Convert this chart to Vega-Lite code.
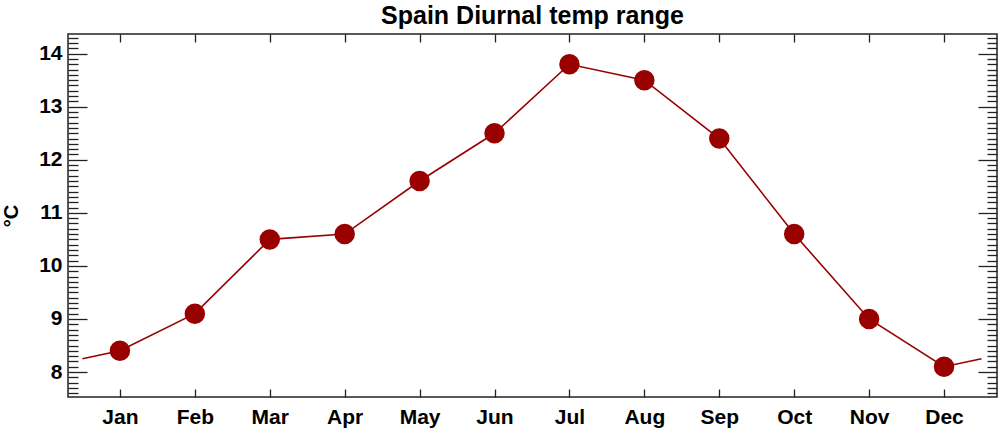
{
  "$schema": "https://vega.github.io/schema/vega-lite/v6.json",
  "width": 929,
  "height": 363,
  "autosize": {"type": "none"},
  "padding": {"left": 68, "top": 34, "right": 3, "bottom": 35},
  "background": "white",
  "title": {
    "text": "Spain Diurnal temp range",
    "font": "Liberation Sans",
    "fontSize": 25,
    "fontWeight": "bold",
    "color": "black",
    "anchor": "middle",
    "offset": 4.5
  },
  "config": {
    "view": {"stroke": "#222222", "strokeWidth": 1.5},
    "axis": {
      "domain": false,
      "grid": false,
      "labelFont": "Liberation Sans",
      "labelFontSize": 21,
      "labelFontWeight": "bold",
      "labelColor": "black",
      "tickColor": "#222222",
      "tickWidth": 1.3,
      "titleFont": "Liberation Sans",
      "labelFlush": false,
      "labelOverlap": false
    }
  },
  "data": {
    "values": [
      {"month": 0.5, "value": 8.25},
      {"month": 1, "value": 8.4},
      {"month": 2, "value": 9.1},
      {"month": 3, "value": 10.5},
      {"month": 4, "value": 10.6},
      {"month": 5, "value": 11.6},
      {"month": 6, "value": 12.5},
      {"month": 7, "value": 13.8},
      {"month": 8, "value": 13.5},
      {"month": 9, "value": 12.4},
      {"month": 10, "value": 10.6},
      {"month": 11, "value": 9.0},
      {"month": 12, "value": 8.1},
      {"month": 12.5, "value": 8.25}
    ]
  },
  "layer": [
    {
      "mark": {"type": "line", "color": "#990000", "strokeWidth": 1.6},
      "encoding": {
        "x": {
          "field": "month", "type": "quantitative",
          "scale": {"domain": [0.307, 12.707], "nice": false, "zero": false},
          "axis": {
            "orient": "bottom",
            "values": [1, 2, 3, 4, 5, 6, 7, 8, 9, 10, 11, 12],
            "labelExpr": "['Jan','Feb','Mar','Apr','May','Jun','Jul','Aug','Sep','Oct','Nov','Dec'][datum.value - 1]",
            "tickSize": -8,
            "labelPadding": 17,
            "title": null
          }
        },
        "y": {
          "field": "value", "type": "quantitative",
          "scale": {"domain": [7.53, 14.37], "nice": false, "zero": false},
          "axis": {
            "orient": "left",
            "values": [8, 9, 10, 11, 12, 13, 14],
            "tickSize": -19,
            "labelPadding": 25,
            "title": "°C",
            "titleFontSize": 20,
            "titleFontWeight": "bold",
            "titleColor": "black",
            "titleAngle": -90,
            "titleX": -57,
            "titleY": 181.5,
            "titleAlign": "center",
            "titleBaseline": "middle"
          }
        }
      }
    },
    {
      "transform": [{"filter": "datum.month >= 1 && datum.month <= 12"}],
      "mark": {"type": "circle", "color": "#990000", "opacity": 1, "size": 420},
      "encoding": {
        "x": {
          "field": "month", "type": "quantitative",
          "axis": {
            "orient": "top",
            "values": [1, 2, 3, 4, 5, 6, 7, 8, 9, 10, 11, 12],
            "labels": false,
            "tickSize": -8,
            "title": null
          }
        },
        "y": {
          "field": "value", "type": "quantitative",
          "axis": {
            "orient": "right",
            "values": [8, 9, 10, 11, 12, 13, 14],
            "labels": false,
            "tickSize": -19,
            "title": null
          }
        }
      }
    },
    {
      "transform": [{"filter": "datum.month >= 1 && datum.month <= 12"}],
      "mark": {"type": "circle", "opacity": 0, "size": 1},
      "encoding": {
        "x": {"field": "month", "type": "quantitative", "axis": null},
        "y": {
          "field": "value", "type": "quantitative",
          "axis": {
            "orient": "left",
            "values": [7.6, 7.7, 7.8, 7.9, 8.1, 8.2, 8.3, 8.4, 8.5, 8.6, 8.7, 8.8, 8.9, 9.1, 9.2, 9.3, 9.4, 9.5, 9.6, 9.7, 9.8, 9.9, 10.1, 10.2, 10.3, 10.4, 10.5, 10.6, 10.7, 10.8, 10.9, 11.1, 11.2, 11.3, 11.4, 11.5, 11.6, 11.7, 11.8, 11.9, 12.1, 12.2, 12.3, 12.4, 12.5, 12.6, 12.7, 12.8, 12.9, 13.1, 13.2, 13.3, 13.4, 13.5, 13.6, 13.7, 13.8, 13.9, 14.1, 14.2, 14.3],
            "labels": false,
            "tickSize": -10,
            "title": null
          }
        }
      }
    },
    {
      "transform": [{"filter": "datum.month >= 1 && datum.month <= 12"}],
      "mark": {"type": "circle", "opacity": 0, "size": 1},
      "encoding": {
        "x": {"field": "month", "type": "quantitative", "axis": null},
        "y": {
          "field": "value", "type": "quantitative",
          "axis": {
            "orient": "right",
            "values": [7.6, 7.7, 7.8, 7.9, 8.1, 8.2, 8.3, 8.4, 8.5, 8.6, 8.7, 8.8, 8.9, 9.1, 9.2, 9.3, 9.4, 9.5, 9.6, 9.7, 9.8, 9.9, 10.1, 10.2, 10.3, 10.4, 10.5, 10.6, 10.7, 10.8, 10.9, 11.1, 11.2, 11.3, 11.4, 11.5, 11.6, 11.7, 11.8, 11.9, 12.1, 12.2, 12.3, 12.4, 12.5, 12.6, 12.7, 12.8, 12.9, 13.1, 13.2, 13.3, 13.4, 13.5, 13.6, 13.7, 13.8, 13.9, 14.1, 14.2, 14.3],
            "labels": false,
            "tickSize": -10,
            "title": null
          }
        }
      }
    }
  ],
  "resolve": {"axis": {"x": "independent", "y": "independent"}}
}
